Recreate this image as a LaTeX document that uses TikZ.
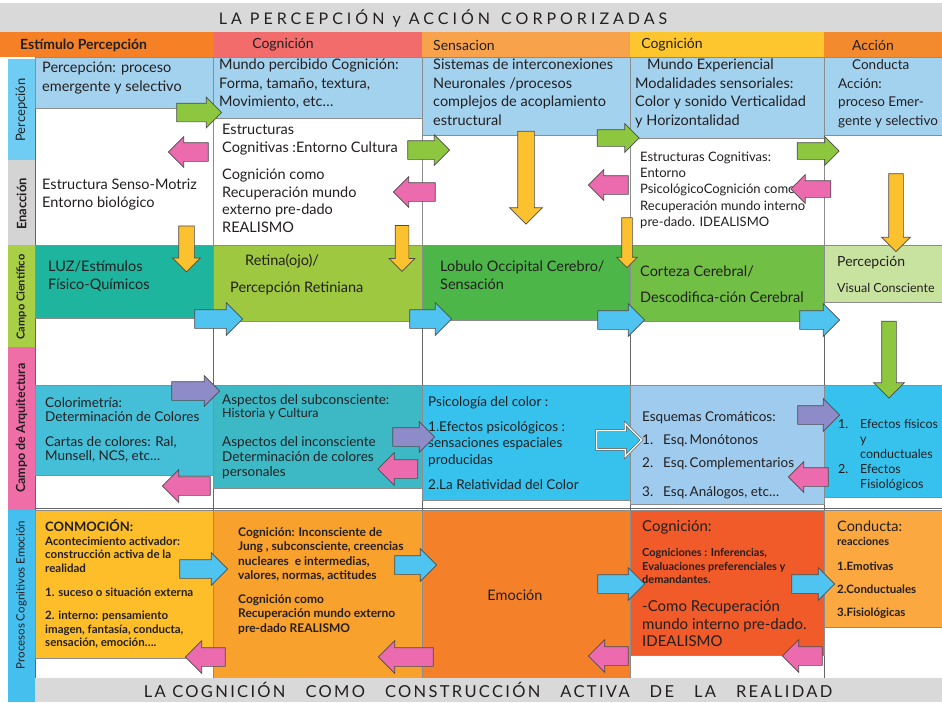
\documentclass[tikz,border=0pt]{standalone}
\usepackage{fontspec}
\setmainfont{Lato}
\newfontfamily\spacedA[LetterSpace=25]{Lato}
\newfontfamily\spacedB[LetterSpace=14]{Lato}
\usetikzlibrary{shapes.arrows}
\definecolor{textc}{HTML}{231F20}
\definecolor{cBand}{HTML}{D9D9D9}
\definecolor{cH1}{HTML}{F58025}
\definecolor{cH2}{HTML}{F26C6C}
\definecolor{cH3}{HTML}{F8A24B}
\definecolor{cH4}{HTML}{FDC52E}
\definecolor{cH5}{HTML}{F38B2E}
\definecolor{cRow1}{HTML}{A3D2EF}
\definecolor{cPer}{HTML}{6FCDF3}
\definecolor{cEna}{HTML}{D4D4D4}
\definecolor{cCam}{HTML}{A8CF45}
\definecolor{cArq}{HTML}{EF6EA8}
\definecolor{cPro}{HTML}{45C0EE}
\definecolor{cG1}{HTML}{1DB59E}
\definecolor{cG2}{HTML}{9DC83F}
\definecolor{cG3}{HTML}{4CB648}
\definecolor{cG4}{HTML}{71BF45}
\definecolor{cG5}{HTML}{C8E2A0}
\definecolor{cA1}{HTML}{45BFD8}
\definecolor{cA2}{HTML}{3DB9C6}
\definecolor{cA3}{HTML}{37C2EE}
\definecolor{cA4}{HTML}{9FCBEE}
\definecolor{cA5}{HTML}{37C2EE}
\definecolor{cE1}{HTML}{FDBE2A}
\definecolor{cE2}{HTML}{F8A12D}
\definecolor{cE3}{HTML}{F4812A}
\definecolor{cE4}{HTML}{F15A29}
\definecolor{cE5}{HTML}{FAA83F}
\definecolor{aGreen}{HTML}{8DC63F}
\definecolor{aPink}{HTML}{EC6AAE}
\definecolor{aYellow}{HTML}{FCC12E}
\definecolor{aBlue}{HTML}{4FC4F0}
\definecolor{aPurple}{HTML}{8E8CC8}
\tikzset{
  txt/.style={anchor=north west, inner sep=0pt, align=left, text=textc},
  ctxt/.style={inner sep=0pt, text=textc},
  cell/.style={draw=black!45, line width=0.6pt},
  gridline/.style={draw=black!60, line width=0.9pt},
  barrow/.style={single arrow, draw=black!70, line width=0.7pt, single arrow tip angle=90},
  arr/.style 2 args={inner sep=#1, single arrow head extend=#2},
  rarrow/.style={barrow, shape border rotate=0},
  larrow/.style={barrow, shape border rotate=180},
  darrow/.style={barrow, shape border rotate=270},
  vlabel/.style={rotate=90, inner sep=0pt, text=textc},
}
\newcommand\fs[2]{\fontsize{#1}{#2}\selectfont}
\begin{document}
\begin{tikzpicture}[x=1pt,y=-1pt]
\useasboundingbox (0,0) rectangle (942,702);
\fill[white] (0,0) rectangle (942,702);
% title band
\fill[cBand] (0,3) rectangle (942,32);
\node[ctxt, font=\spacedA\fs{16}{18}] (title) at (443,18) {LA PERCEPCIÓN y ACCIÓN\hspace{3pt} CORPORIZADAS};
% headers
\fill[cH1] (0,32) rectangle (213,57);
\fill[cH2] (213,32) rectangle (422,57);
\fill[cH3] (422,32) rectangle (630,57);
\fill[cH4] (630,32) rectangle (824,57);
\fill[cH5] (824,32) rectangle (942,57);
\node[ctxt, anchor=west, font=\bfseries\fs{14}{16}] (h1) at (20,45) {Estímulo Percepción};
\node[ctxt, font=\fs{14}{16}] (h2) at (283,45) {Cognición};
\node[ctxt, anchor=west, font=\fs{14}{16}] (h3) at (433,45) {Sensacion};
\node[ctxt, font=\fs{14}{16}] (h4) at (672,45) {Cognición};
\node[ctxt, font=\fs{14}{16}] (h5) at (873,45) {Acción};
% left labels
\fill[cPer] (8,59) rectangle (35,160);
\fill[cEna] (8,160) rectangle (35,245);
\fill[cCam] (8,245) rectangle (35,347);
\fill[cArq] (8,347) rectangle (35,510);
\fill[cPro] (8,510) rectangle (35,702);
\node[vlabel, font=\fs{13}{15}] (lPer) at (21.5,110) {Percepción};
\node[vlabel, font=\bfseries\fs{13}{15}] (lEna) at (21.5,204) {Enacción};
\node[vlabel, font=\bfseries\fs{11}{13}] (lCam) at (21.5,297) {Campo Científico};
\node[vlabel, font=\bfseries\fs{12.5}{14}] (lArq) at (21.5,428) {Campo de Arquitectura};
\node[vlabel, font=\fs{11.5}{13}] (lPro) at (21.5,595) {Procesos Cognitivos Emoción};
% grid lines
\foreach \gx in {213,422,630,824} \draw[gridline] (\gx,57) -- (\gx,678);
\draw[gridline] (35,57) -- (35,702);
\draw[gridline] (35,245) -- (942,245);
\draw[gridline] (35,508) -- (942,508);
% row 1
\filldraw[cell, fill=cRow1] (35,57) rectangle (213,108);
\filldraw[cell, fill=cRow1] (213,57) rectangle (422,118);
\filldraw[cell, fill=cRow1] (422,57) rectangle (630,135);
\filldraw[cell, fill=cRow1] (630,57) rectangle (824,138);
\filldraw[cell, fill=cRow1] (824,57) rectangle (942,135);
\filldraw[cell, fill=white] (213,118) rectangle (422,245);
\filldraw[cell, fill=white] (630,138) rectangle (824,245);
\node[txt, font=\fs{14.5}{18.5}] (t11) at (42,62) {Percepción: proceso\\emergente y selectivo};
\node[txt, font=\fs{14.5}{18.5}] (t12) at (219,59) {Mundo percibido Cognición:\\Forma, tamaño, textura,\\Movimiento, etc…};
\node[txt, font=\fs{14.5}{18.5}] (t13) at (433,59) {Sistemas de interconexiones\\Neuronales /procesos\\complejos de acoplamiento\\estructural};
\node[txt, font=\fs{14.5}{18.5}] (t14) at (635,59) {\hspace*{12pt}Mundo Experiencial\\Modalidades sensoriales:\\Color y sonido Verticalidad\\y Horizontalidad};
\node[txt, font=\fs{13.5}{18.5}] (t15) at (838,59.5) {\hspace*{14pt}Conducta\\Acción:\\proceso Emer-\\gente y selectivo};
\node[txt, font=\fs{14.5}{18}] (t22a) at (222,124) {Estructuras\\Cognitivas :Entorno Cultura};
\node[txt, font=\fs{14.5}{17.5}] (t22b) at (222,169) {Cognición como\\Recuperación mundo\\externo pre-dado\\REALISMO};
\node[txt, font=\fs{14.5}{18}] (t21) at (42,179) {Estructura Senso-Motriz\\Entorno biológico};
\node[txt, font=\fs{13}{16.3}] (t24) at (640,151.5) {Estructuras Cognitivas:\\Entorno\\PsicológicoCognición como\\Recuperación mundo interno\\pre-dado. IDEALISMO};
% row 3
\filldraw[cell, fill=cG1] (35,245) rectangle (213,318);
\filldraw[cell, fill=cG2] (213,245) rectangle (422,321);
\filldraw[cell, fill=cG3] (422,245) rectangle (630,320);
\filldraw[cell, fill=cG4] (630,245) rectangle (824,321);
\filldraw[cell, fill=cG5] (824,245) rectangle (942,302);
\node[txt, font=\fs{14.5}{18}] (t31) at (48,261) {LUZ/Estímulos\\Físico-Químicos};
\node[txt, font=\fs{14.5}{18}] (t32a) at (245,254) {Retina(ojo)/};
\node[txt, font=\fs{14.5}{18}] (t32b) at (230,282) {Percepción Retiniana};
\node[txt, font=\fs{14.5}{18}] (t33) at (440,261) {Lobulo Occipital Cerebro/\\Sensación};
\node[txt, font=\fs{14.5}{18}] (t34a) at (640,266) {Corteza Cerebral/};
\node[txt, font=\fs{14.5}{18}] (t34b) at (640,292) {Descodifica-ción Cerebral};
\node[txt, font=\fs{14}{18}] (t35a) at (837,256) {Percepción};
\node[txt, font=\fs{12.5}{15}] (t35b) at (837,282.7) {Visual Consciente};
% row 4
\filldraw[cell, fill=cA1] (35,385) rectangle (213,475);
\filldraw[cell, fill=cA2] (213,385) rectangle (422,488);
\filldraw[cell, fill=cA3] (422,385) rectangle (630,500);
\filldraw[cell, fill=cA4] (630,385) rectangle (824,504);
\filldraw[cell, fill=cA5] (824,385) rectangle (942,497);
\node[txt, font=\fs{13.5}{14.5}] (t41a) at (45,397.3) {Colorimetría:\\Determinación de Colores};
\node[txt, font=\fs{13.5}{14.5}] (t41b) at (45,436.3) {Cartas de colores: Ral,\\Munsell, NCS, etc…};
\node[txt, font=\fs{13.5}{13.5}] (t42a) at (222,394.3) {Aspectos del subconsciente:\\{\fs{12.5}{13.5}Historia y Cultura}};
\node[txt, font=\fs{13.5}{15}] (t42b) at (222,436.3) {Aspectos del inconsciente\\Determinación de colores\\personales};
\node[txt, font=\fs{13.5}{15}] (t43a) at (428,396.3) {Psicología del color :};
\node[txt, font=\fs{13.5}{16.5}] (t43b) at (428,421.3) {1.Efectos psicológicos :\\sensaciones espaciales\\producidas};
\node[txt, font=\fs{13.5}{15}] (t43c) at (428,479.3) {2.La Relatividad del Color};
\node[txt, font=\fs{13.5}{15}] (t44a) at (642,411.3) {Esquemas Cromáticos:};
\node[txt, font=\fs{13.5}{23}] (t44b) at (642,434.3) {\makebox[21pt][l]{1.}Esq.\,Monótonos\\\makebox[21pt][l]{2.}Esq.\,Complementarios\\[6pt]\makebox[21pt][l]{3.}Esq.\,Análogos, etc…};
\node[txt, font=\fs{12.5}{15}] (t45) at (838,419.5) {\makebox[22pt][l]{1.}Efectos físicos\\\hspace*{22pt}y\\\hspace*{22pt}conductuales\\\makebox[22pt][l]{2.}Efectos\\\hspace*{22pt}Fisiológicos};
% row 5
\filldraw[cell, fill=cE1] (35,510) rectangle (213,658);
\filldraw[cell, fill=cE2] (213,510) rectangle (422,678);
\filldraw[cell, fill=cE3] (422,510) rectangle (630,678);
\filldraw[cell, fill=cE4] (630,510) rectangle (824,655);
\filldraw[cell, fill=cE5] (824,510) rectangle (942,627);
\node[txt, font=\bfseries\fs{11.5}{13.5}] (t51) at (45,519.5) {{\fs{13}{13.5}CONMOCIÓN:}\\Acontecimiento activador:\\construcción activa de la\\realidad\\[11pt]1. suceso o situación externa\\[9.5pt]2. interno: pensamiento\\imagen, fantasía, conducta,\\sensación, emoción….};
\node[txt, font=\bfseries\fs{12}{14.5}] (t52) at (238,527) {Cognición: Inconsciente de\\Jung , subconsciente, creencias\\nucleares\ \ e intermedias,\\valores, normas, actitudes\\[9pt]Cognición como\\Recuperación mundo externo\\pre-dado REALISMO};
\node[ctxt, font=\fs{14.5}{17}] (t53) at (515,595) {Emoción};
\node[txt, font=\fs{15}{17}] (t54a) at (642,520.7) {Cognición:};
\node[txt, font=\bfseries\fs{11}{13.5}] (t54b) at (642,548.4) {Cogniciones : Inferencias,\\Evaluaciones preferenciales y\\demandantes.};
\node[txt, font=\fs{15}{17.5}] (t54c) at (642,600.7) {-Como Recuperación\\mundo interno pre-dado.\\IDEALISMO};
\node[txt, font=\fs{14.5}{17}] (t55a) at (837,521) {Conducta:};
\node[txt, font=\bfseries\fs{11}{13}] (t55b) at (837,537.4) {reacciones};
\node[txt, font=\bfseries\fs{11.5}{23}] (t55c) at (837,562.2) {1.Emotivas\\2.Conductuales\\3.Fisiológicas};
% bottom band
\fill[cBand] (35,678) rectangle (942,702);
\node[ctxt, font=\spacedB\fs{16.5}{18}] (bottom) at (488,690) {LA COGNICIÓN\hspace{20pt}COMO\hspace{20pt}CONSTRUCCIÓN\hspace{20pt}ACTIVA\hspace{20pt}DE\hspace{20pt}LA\hspace{20pt}REALIDAD};
% arrows rows 1-2
\node[rarrow, fill=aGreen, minimum height=45pt, arr={9pt}{6pt}] (a1) at (194.5,112.5) {};
\node[larrow, fill=aPink, minimum height=40pt, arr={9pt}{6pt}] (a2) at (193,152) {};
\node[rarrow, fill=aGreen, minimum height=42pt, arr={9pt}{6pt}] (a3) at (424,150) {};
\node[larrow, fill=aPink, minimum height=42pt, arr={9pt}{6pt}] (a4) at (419,192) {};
\node[darrow, fill=aYellow, minimum height=46pt, arr={7.5pt}{6pt}] (a5) at (186.5,245) {};
\node[darrow, fill=aYellow, minimum height=46pt, arr={6.5pt}{6pt}] (a6) at (402,245) {};
\node[darrow, fill=aYellow, minimum height=93pt, arr={8pt}{8pt}] (a7) at (526,173.5) {};
\node[rarrow, fill=aGreen, minimum height=42pt, arr={8pt}{6pt}] (a8) at (614,138) {};
\node[larrow, fill=aPink, minimum height=40pt, arr={9pt}{6pt}] (a9) at (613,185) {};
\node[darrow, fill=aYellow, minimum height=50pt, arr={5pt}{5pt}] (a10) at (627,240) {};
\node[rarrow, fill=aGreen, minimum height=42pt, arr={8pt}{6pt}] (a11) at (814,151) {};
\node[larrow, fill=aPink, minimum height=40pt, arr={8pt}{6pt}] (a12) at (815,189) {};
\node[darrow, fill=aYellow, minimum height=78pt, arr={7pt}{7pt}] (a13) at (896,209) {};
% arrows row 3
\node[rarrow, fill=aBlue, minimum height=48pt, arr={9pt}{7pt}] (b1) at (214,319) {};
\node[rarrow, fill=aBlue, minimum height=42pt, arr={9pt}{7pt}] (b2) at (426,319) {};
\node[rarrow, fill=aBlue, minimum height=47pt, arr={9pt}{7pt}] (b3) at (616.5,320) {};
\node[rarrow, fill=aBlue, minimum height=40pt, arr={9pt}{7pt}] (b4) at (815,320) {};
\node[darrow, fill=aGreen, minimum height=77pt, arr={7pt}{8pt}] (b5) at (889,356) {};
% arrows row 4
\node[rarrow, fill=aPurple, minimum height=48pt, arr={9pt}{6pt}] (c1) at (191,391) {};
\node[rarrow, fill=aPurple, minimum height=42pt, arr={9pt}{6pt}] (c2) at (409,437) {};
\node[rarrow, fill=cA3, draw=black!60, double=white, double distance=1.2pt, minimum height=45pt, arr={9pt}{7pt}] (c3) at (614.5,440) {};
\node[rarrow, fill=aPurple, minimum height=42pt, arr={9pt}{7pt}] (c4) at (814,415) {};
\node[larrow, fill=aPink, minimum height=40pt, arr={9pt}{6pt}] (c5) at (813,477) {};
\node[larrow, fill=aPink, minimum height=48pt, arr={9pt}{7pt}] (c6) at (191,486) {};
\node[larrow, fill=aPink, minimum height=40pt, arr={9pt}{7pt}] (c7) at (402.5,469) {};
% arrows row 5
\node[rarrow, fill=aBlue, minimum height=48pt, arr={9pt}{7pt}] (d1) at (199,569) {};
\node[rarrow, fill=aBlue, minimum height=42pt, arr={9pt}{7pt}] (d2) at (411,565) {};
\node[rarrow, fill=aBlue, minimum height=47pt, arr={9pt}{7pt}] (d3) at (616.5,584) {};
\node[rarrow, fill=aBlue, minimum height=43pt, arr={9pt}{7pt}] (d4) at (808.5,584) {};
\node[larrow, fill=aPink, minimum height=40pt, arr={9pt}{7pt}] (e1) at (210,657) {};
\node[larrow, fill=aPink, minimum height=55pt, arr={9pt}{7pt}] (e2) at (410.5,657) {};
\node[larrow, fill=aPink, minimum height=40pt, arr={9pt}{7pt}] (e3) at (613,656) {};
\node[larrow, fill=aPink, minimum height=40pt, arr={9pt}{7pt}] (e4) at (807,656) {};
\end{tikzpicture}
\end{document}
